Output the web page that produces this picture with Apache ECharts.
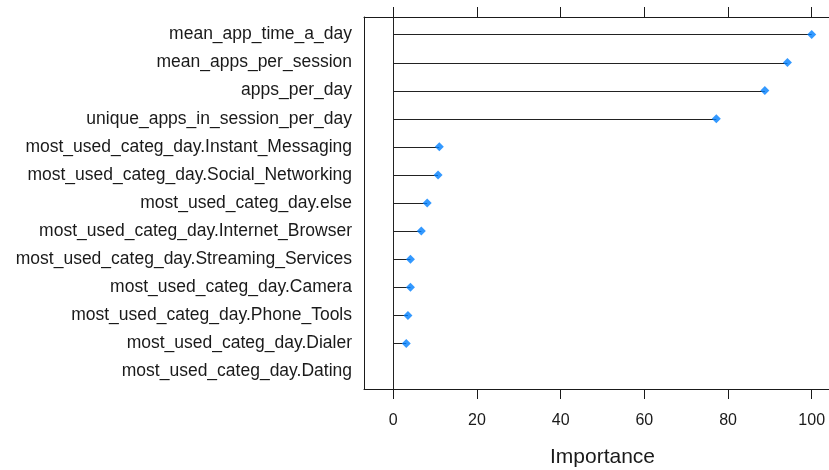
<!DOCTYPE html>
<html>
<head>
<meta charset="utf-8">
<script src="https://cdn.jsdelivr.net/npm/echarts@6/dist/echarts.min.js"></script>
<style>
  html, body { margin: 0; padding: 0; background: #fff; }
  #chart { width: 829px; height: 470px; }
</style>
</head>
<body>
<div id="chart"></div>
<script>
// Variable importance, top to bottom
const features = [
  'mean_app_time_a_day',
  'mean_apps_per_session',
  'apps_per_day',
  'unique_apps_in_session_per_day',
  'most_used_categ_day.Instant_Messaging',
  'most_used_categ_day.Social_Networking',
  'most_used_categ_day.else',
  'most_used_categ_day.Internet_Browser',
  'most_used_categ_day.Streaming_Services',
  'most_used_categ_day.Camera',
  'most_used_categ_day.Phone_Tools',
  'most_used_categ_day.Dialer',
  'most_used_categ_day.Dating'
];
const importance = [100, 94.2, 88.8, 77.2, 11.0, 10.7, 8.1, 6.7, 4.1, 4.1, 3.5, 3.1, null];
const xTicks = [0, 20, 40, 60, 80, 100];

const rowIdx = features.map((_, i) => i);
const points = importance.map((v, i) => [v, i]).filter(p => p[0] !== null);

const font = 'Liberation Sans, Arial, sans-serif';
const ink = '#1a1a1a';

const chart = echarts.init(document.getElementById('chart'), null, { renderer: 'canvas' });

chart.setOption({
  animation: false,
  backgroundColor: '#fff',
  // the panel runs past the right edge of the canvas
  grid: { show: false, left: 364, top: 17, width: 477, height: 372, outerBoundsMode: 'none' },
  xAxis: [
    {
      type: 'value', min: -7, max: 107, position: 'bottom',
      name: 'Importance', nameLocation: 'middle', nameGap: 58,
      nameTextStyle: { fontFamily: font, fontSize: 21, color: ink },
      axisLine: { show: true, onZero: false, lineStyle: { color: ink, width: 1 } },
      axisTick: { show: true, inside: false, length: 10, customValues: xTicks, lineStyle: { color: ink, width: 1 } },
      axisLabel: { show: true, customValues: xTicks, margin: 24, fontFamily: font, fontSize: 16, color: ink },
      splitLine: { show: false }
    },
    {
      type: 'value', min: -7, max: 107, position: 'top',
      axisLine: { show: true, onZero: false, lineStyle: { color: ink, width: 1 } },
      axisTick: { show: true, inside: false, length: 10, customValues: xTicks, lineStyle: { color: ink, width: 1 } },
      axisLabel: { show: false },
      splitLine: { show: false }
    }
  ],
  yAxis: {
    type: 'value', inverse: true, min: -0.62, max: 12.62,
    axisLine: { show: true, onZero: false, lineStyle: { color: ink, width: 1 } },
    axisTick: { show: false },
    axisLabel: {
      show: true, customValues: rowIdx, margin: 12,
      fontFamily: font, fontSize: 17.5, color: ink,
      formatter: v => features[Math.round(v)]
    },
    splitLine: { show: false }
  },
  series: [
    {
      // stems from zero to each importance value, plus the zero reference line
      type: 'custom',
      data: points,
      renderItem: (params, api) => {
        const a = api.coord([0, api.value(1)]);
        const b = api.coord([api.value(0), api.value(1)]);
        const y = Math.round(a[1]) + 0.5;
        return {
          type: 'line',
          shape: { x1: a[0], y1: y, x2: b[0], y2: y },
          style: { stroke: '#222', lineWidth: 1 }
        };
      },
      markLine: {
        silent: true, symbol: 'none', label: { show: false },
        lineStyle: { color: '#222', width: 1, type: 'solid' },
        data: [{ xAxis: 0 }]
      },
      z: 2
    },
    {
      type: 'scatter',
      data: points,
      symbol: 'diamond',
      symbolSize: 9,
      itemStyle: { color: '#0080ff' },
      z: 3
    }
  ]
});
</script>
</body>
</html>
